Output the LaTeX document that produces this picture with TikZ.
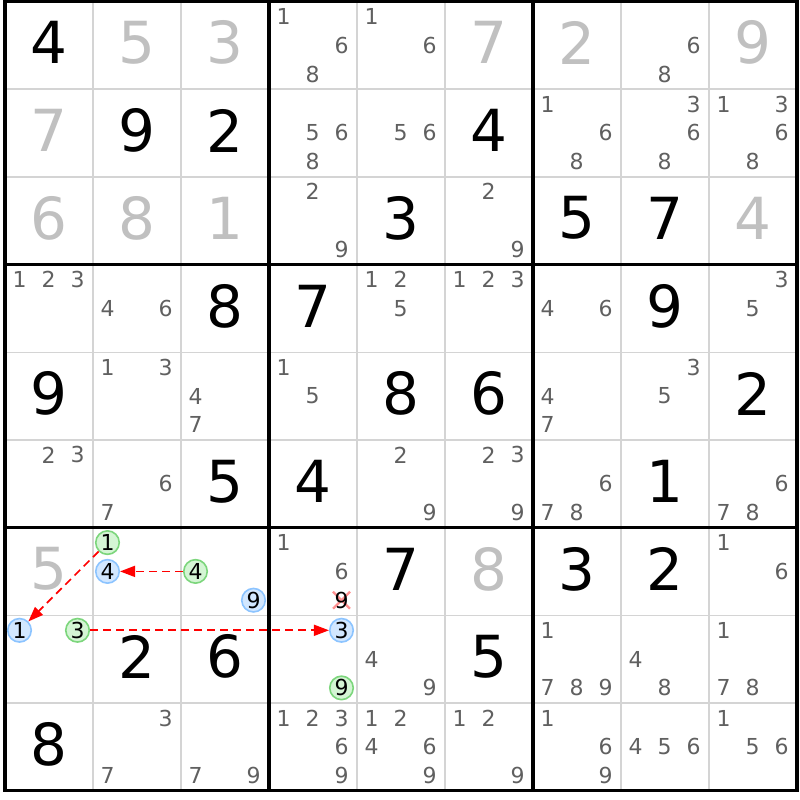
\documentclass[tikz,border=0pt]{standalone}
\usepackage{fontspec}
\setmainfont{DejaVu Sans}
\usetikzlibrary{arrows.meta}
\definecolor{thingray}{HTML}{D4D4D4}
\definecolor{solvedgray}{HTML}{C0C0C0}
\definecolor{candgray}{HTML}{606060}
\definecolor{gfill}{HTML}{D4F5D4}
\definecolor{gdraw}{HTML}{7CD67C}
\definecolor{bfill}{HTML}{D2E7FF}
\definecolor{bdraw}{HTML}{8CC4FF}
\definecolor{xred}{HTML}{FF9090}
\begin{document}
\begin{tikzpicture}[x=1pt,y=-1pt,
  bigd/.style={inner sep=0pt,font=\fontsize{58}{60}\selectfont},
  given/.style={bigd,text=black},
  solvedd/.style={bigd,text=solvedgray},
  cand/.style={inner sep=0pt,text=candgray,font=\fontsize{22}{24}\selectfont},
  gc/.style={circle,inner sep=0pt,minimum size=23.5pt,line width=1.6pt,draw=gdraw,fill=gfill,text=black,font=\fontsize{22}{24}\selectfont},
  bc/.style={gc,draw=bdraw,fill=bfill},
  link/.style={red,line width=1.7pt,dash pattern=on 8pt off 5pt,-{Triangle[length=15pt,width=11pt]}},
  thinline/.style={thingray,line width=1.6pt},
  thickline/.style={black,line width=3.2pt}]
\useasboundingbox (0,0) rectangle (800,800);
\fill[white] (0,0) rectangle (800,800);
% thin grid lines
\foreach \i in {1,2,4,5,7,8} {
  \draw[thinline] ({5+88*\i},1.5) -- ({5+88*\i},790.8);
  \draw[thinline] (5,{1.5+87.7*\i}) -- (797,{1.5+87.7*\i});
}
% thick box lines
\foreach \i in {3,6} {
  \draw[thickline] ({5+88*\i},1.5) -- ({5+88*\i},790.8);
  \draw[thickline] (5,{1.5+87.7*\i}) -- (797,{1.5+87.7*\i});
}
\draw[thickline] (5,1.5) rectangle (797,790.8);
% given digits
\foreach \r/\c/\d in {0/0/4,1/1/9,1/2/2,1/5/4,2/4/3,2/6/5,2/7/7,3/2/8,3/3/7,3/7/9,4/0/9,4/4/8,4/5/6,4/8/2,5/2/5,5/3/4,5/7/1,6/4/7,6/6/3,6/7/2,7/1/2,7/2/6,7/5/5,8/0/8}
  \node[given] (v-\r-\c) at ({5+88*\c+43.5},{1.5+87.7*\r+41.3}) {\d};
% solved digits
\foreach \r/\c/\d in {0/1/5,0/2/3,0/5/7,0/6/2,0/8/9,1/0/7,2/0/6,2/1/8,2/2/1,2/8/4,6/0/5,6/5/8}
  \node[solvedd] (v-\r-\c) at ({5+88*\c+43.5},{1.5+87.7*\r+41.3}) {\d};
% candidates
\foreach \r/\c/\L in {0/3/{1,6,8},0/4/{1,6},0/7/{6,8},1/3/{5,6,8},1/4/{5,6},1/6/{1,6,8},1/7/{3,6,8},1/8/{1,3,6,8},2/3/{2,9},2/5/{2,9},3/0/{1,2,3},3/1/{4,6},3/4/{1,2,5},3/5/{1,2,3},3/6/{4,6},3/8/{3,5},4/1/{1,3},4/2/{4,7},4/3/{1,5},4/6/{4,7},4/7/{3,5},5/0/{2,3},5/1/{6,7},5/4/{2,9},5/5/{2,3,9},5/6/{6,7,8},5/8/{6,7,8},6/3/{1,6},6/8/{1,6},7/4/{4,9},7/6/{1,7,8,9},7/7/{4,8},7/8/{1,7,8},8/1/{3,7},8/2/{7,9},8/3/{1,2,3,6,9},8/4/{1,2,4,6,9},8/5/{1,2,9},8/6/{1,6,9},8/7/{4,5,6},8/8/{1,5,6}} {
  \foreach \d in \L {
    \node[cand] (k-\r-\c-\d) at ({5+88*\c+43.5+(mod(\d-1,3)-1)*29},{1.5+87.7*\r+43.7+(floor((\d-1)/3)-1)*28.8}) {\d};
  }
}
% eliminated candidate
\coordinate (xc) at (341.5,600.2);
\draw[xred,line width=2.2pt] ([shift={(-8.5,-8.5)}]xc) -- ([shift={(8.5,8.5)}]xc);
\draw[xred,line width=2.2pt] ([shift={(-8.5,8.5)}]xc) -- ([shift={(8.5,-8.5)}]xc);
\node[inner sep=0pt,text=black,font=\fontsize{22}{24}\selectfont] (x639) at (xc) {9};
% highlighted candidates
\node[gc] (g611) at (107.5,542.6) {1};
\node[bc] (b614) at (107.5,571.4) {4};
\node[gc] (g624) at (195.5,571.4) {4};
\node[bc] (b629) at (253.5,600.2) {9};
\node[bc] (b701) at (19.5,630.3) {1};
\node[gc] (g703) at (77.5,630.3) {3};
\node[bc] (b733) at (341.5,630.3) {3};
\node[gc] (g739) at (341.5,687.9) {9};
% links
\draw[link] (g611) -- (b701);
\draw[link] (g624) -- (b614);
\draw[link] (g703) -- (b733);
\end{tikzpicture}
\end{document}
